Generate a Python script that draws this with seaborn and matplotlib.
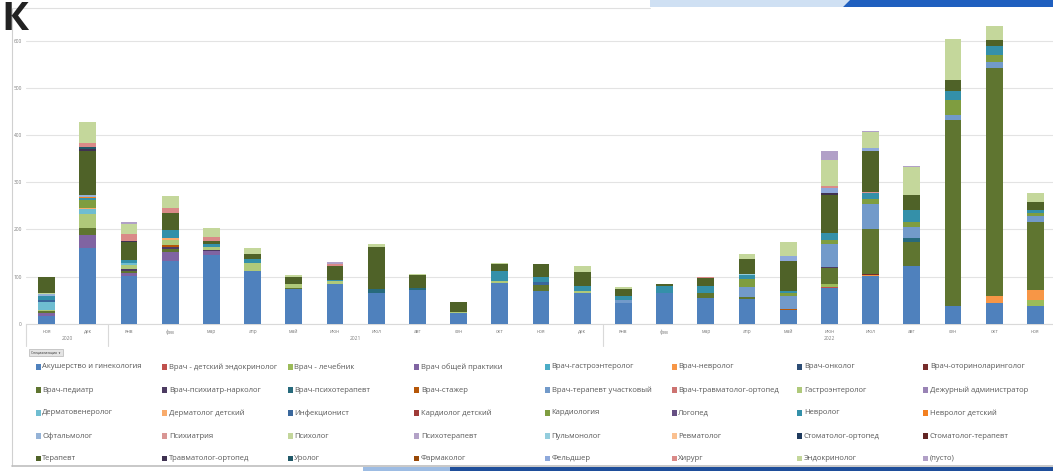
import numpy as np
import pandas as pd
import matplotlib.pyplot as plt
import seaborn as sns
from matplotlib.patches import Rectangle, Polygon
from matplotlib.transforms import blended_transform_factory

# Месяцы по оси X (ноя 2020 - ноя 2022)
months = ['ноя', 'дек',
          'янв', 'фев', 'мар', 'апр', 'май', 'июн', 'июл', 'авг', 'сен', 'окт', 'ноя', 'дек',
          'янв', 'фев', 'мар', 'апр', 'май', 'июн', 'июл', 'авг', 'сен', 'окт', 'ноя']
years = ['2020', '2021', '2022']
year_first = [0, 2, 14]
year_last = [1, 13, 24]

specialties = [
    'Акушерство и гинекология', 'Врач - детский эндокринолог', 'Врач - лечебник', 'Врач общей практики',
    'Врач-гастроэнтеролог', 'Врач-невролог', 'Врач-онколог', 'Врач-оториноларинголог',
    'Врач-педиатр', 'Врач-психиатр-нарколог', 'Врач-психотерапевт', 'Врач-стажер',
    'Врач-терапевт участковый', 'Врач-травматолог-ортопед', 'Гастроэнтеролог', 'Дежурный администратор',
    'Дерматовенеролог', 'Дерматолог детский', 'Инфекционист', 'Кардиолог детский',
    'Кардиология', 'Логопед', 'Невролог', 'Невролог детский',
    'Офтальмолог', 'Психиатрия', 'Психолог', 'Психотерапевт',
    'Пульмонолог', 'Ревматолог', 'Стоматолог-ортопед', 'Стоматолог-терапевт',
    'Терапевт', 'Травматолог-ортопед', 'Уролог', 'Фармаколог',
    'Фельдшер', 'Хирург', 'Эндокринолог', '(пусто)']

colors = [
    '#4F81BD', '#C0504D', '#9BBB59', '#8064A2', '#4BACC6', '#F79646', '#2C4D75', '#772C2A',
    '#5F7530', '#4D3B62', '#276A7C', '#B65708', '#729ACA', '#CD7371', '#AFC97A', '#9983B5',
    '#6FBDD1', '#F9AB6B', '#3A679C', '#9F3B38', '#7F9D40', '#664F83', '#3490A9', '#F38020',
    '#95B3D7', '#D99694', '#C3D69B', '#B3A2C7', '#93CDDD', '#FAC090', '#1F3B5E', '#632523',
    '#4F6228', '#3F3151', '#215968', '#984807', '#8EA9DB', '#DA8A88', '#C4D79B', '#B1A0C7']

# Количество по специальностям, по месяцам
akusherstvo  = [16, 160, 101, 133, 145, 112, 73, 84, 66, 71, 22, 87, 70, 66, 43, 66, 55, 53, 28, 75, 101, 123, 38, 44, 38]
det_endokr   = [0, 0, 0, 0, 0, 0, 0, 0, 0, 0, 0, 0, 0, 0, 0, 0, 0, 0, 0, 3, 0, 0, 0, 0, 0]
lechebnik    = [0, 0, 0, 0, 0, 0, 0, 0, 0, 0, 0, 0, 0, 0, 0, 0, 0, 0, 0, 6, 0, 0, 0, 0, 12]
obshey_pr    = [7, 29, 7, 18, 9, 0, 0, 0, 0, 0, 0, 0, 0, 0, 0, 0, 0, 0, 0, 0, 0, 0, 0, 0, 0]
v_gastro     = [0, 0, 0, 0, 0, 0, 0, 0, 0, 0, 0, 0, 0, 0, 0, 0, 0, 0, 0, 0, 0, 0, 0, 0, 0]
v_nevrolog   = [0, 0, 0, 0, 0, 0, 0, 0, 0, 0, 0, 0, 0, 0, 0, 0, 0, 0, 0, 0, 3, 0, 0, 15, 21]
v_onkolog    = [0, 0, 0, 0, 0, 0, 0, 0, 0, 0, 0, 0, 0, 0, 0, 0, 0, 0, 0, 0, 0, 0, 0, 0, 0]
v_otorino    = [0, 0, 0, 0, 0, 0, 0, 0, 0, 0, 0, 0, 0, 0, 0, 0, 0, 0, 0, 0, 2, 0, 0, 0, 0]
v_pediatr    = [4, 14, 3, 8, 0, 0, 3, 0, 0, 0, 0, 0, 12, 0, 0, 0, 11, 4, 0, 33, 95, 51, 393, 482, 145]
v_psih_nark  = [0, 0, 4, 3, 3, 0, 0, 0, 0, 0, 0, 0, 0, 0, 0, 0, 0, 0, 0, 3, 0, 0, 0, 0, 0]
v_psihoter   = [0, 0, 0, 0, 0, 0, 0, 0, 7, 4, 0, 0, 0, 0, 0, 0, 0, 0, 0, 0, 0, 7, 0, 0, 0]
v_stazher    = [0, 0, 0, 5, 0, 0, 0, 0, 0, 0, 0, 0, 0, 0, 0, 0, 0, 0, 4, 0, 0, 0, 0, 0, 0]
v_terap_uch  = [0, 0, 0, 0, 0, 0, 0, 0, 0, 0, 0, 0, 0, 0, 8, 0, 0, 20, 26, 48, 53, 23, 12, 13, 12]
v_travm      = [0, 0, 0, 0, 0, 0, 0, 0, 0, 0, 0, 0, 0, 0, 0, 0, 0, 0, 0, 0, 0, 0, 0, 0, 0]
gastroent    = [3, 30, 9, 10, 5, 16, 8, 6, 0, 0, 3, 4, 0, 4, 0, 0, 0, 0, 0, 0, 0, 0, 0, 0, 0]
dezhurny     = [0, 0, 0, 0, 0, 0, 0, 0, 0, 0, 0, 0, 0, 0, 0, 0, 0, 0, 0, 0, 0, 0, 0, 0, 0]
dermatoven   = [16, 10, 5, 0, 0, 0, 0, 0, 0, 0, 0, 0, 0, 0, 0, 0, 0, 0, 0, 0, 0, 0, 0, 0, 0]
derm_det     = [0, 2, 0, 4, 0, 0, 0, 0, 0, 0, 0, 0, 0, 0, 0, 0, 0, 0, 0, 0, 0, 0, 0, 0, 0]
infekcionist = [4, 0, 0, 0, 0, 0, 0, 0, 0, 0, 0, 0, 6, 0, 0, 0, 0, 0, 0, 0, 0, 0, 0, 0, 0]
kard_det     = [0, 0, 0, 0, 0, 0, 0, 0, 0, 0, 0, 0, 0, 0, 0, 0, 0, 0, 0, 0, 0, 0, 0, 0, 0]
kardiologiya = [0, 18, 0, 0, 0, 0, 0, 0, 0, 0, 0, 0, 0, 0, 0, 0, 0, 18, 7, 9, 11, 11, 30, 16, 6]
logoped      = [0, 0, 0, 0, 0, 0, 0, 0, 0, 0, 0, 0, 0, 0, 0, 0, 0, 0, 0, 0, 0, 0, 0, 0, 0]
nevrolog     = [8, 4, 5, 17, 7, 10, 0, 2, 0, 0, 0, 21, 12, 10, 7, 14, 14, 8, 4, 15, 11, 27, 21, 18, 8]
nevr_det     = [0, 2, 0, 0, 0, 0, 0, 0, 0, 0, 0, 0, 0, 0, 0, 0, 0, 0, 0, 0, 0, 0, 0, 0, 0]
oftalmolog   = [4, 3, 0, 0, 0, 0, 0, 0, 0, 0, 0, 0, 0, 0, 0, 0, 0, 0, 0, 0, 0, 0, 0, 0, 0]
psihiatriya  = [0, 0, 0, 0, 0, 0, 0, 0, 0, 0, 0, 0, 0, 0, 0, 0, 0, 0, 0, 0, 3, 0, 0, 0, 0]
psiholog     = [2, 0, 0, 0, 0, 0, 0, 0, 0, 0, 0, 0, 0, 0, 0, 0, 0, 0, 0, 0, 0, 0, 0, 0, 0]
psihoterapevt = [0, 0, 0, 0, 0, 0, 0, 0, 0, 0, 0, 0, 0, 0, 0, 0, 0, 0, 0, 0, 0, 0, 0, 0, 0]
pulmonolog   = [0, 0, 0, 0, 0, 0, 0, 0, 0, 0, 0, 0, 0, 0, 0, 0, 0, 3, 0, 0, 0, 0, 0, 0, 0]
revmatolog   = [0, 0, 0, 0, 0, 0, 0, 0, 0, 0, 0, 0, 0, 0, 0, 0, 0, 0, 0, 0, 0, 0, 0, 0, 0]
stom_ortoped = [0, 0, 0, 0, 0, 0, 0, 0, 0, 0, 0, 0, 0, 0, 0, 0, 0, 0, 0, 0, 0, 0, 0, 0, 0]
stom_terapevt = [0, 0, 0, 0, 0, 0, 0, 0, 0, 0, 0, 0, 0, 0, 0, 0, 0, 0, 0, 0, 0, 0, 0, 0, 0]
terapevt     = [34, 95, 39, 36, 7, 9, 16, 30, 89, 28, 20, 14, 26, 30, 16, 4, 16, 32, 64, 81, 88, 30, 23, 13, 15]
travmatolog  = [0, 4, 2, 0, 0, 0, 0, 0, 0, 0, 0, 0, 0, 0, 0, 0, 0, 0, 0, 4, 0, 0, 0, 0, 0]
urolog       = [0, 3, 0, 0, 0, 0, 0, 0, 0, 0, 0, 0, 0, 0, 0, 0, 0, 0, 0, 0, 0, 0, 0, 0, 0]
farmakolog   = [2, 0, 0, 0, 0, 0, 0, 0, 0, 0, 0, 0, 0, 0, 0, 0, 0, 0, 0, 0, 0, 0, 0, 0, 0]
feldsher     = [0, 0, 0, 0, 0, 0, 0, 0, 0, 0, 0, 0, 0, 0, 0, 0, 0, 0, 11, 11, 5, 0, 0, 0, 0]
hirurg       = [0, 8, 16, 12, 8, 0, 0, 4, 0, 0, 2, 0, 0, 0, 0, 0, 3, 0, 0, 3, 0, 0, 0, 0, 0]
endokrinolog = [0, 45, 21, 25, 18, 14, 4, 0, 7, 2, 0, 2, 0, 13, 3, 1, 0, 10, 30, 55, 34, 60, 87, 30, 21]
pusto        = [0, 0, 3, 0, 0, 0, 0, 4, 0, 0, 0, 0, 0, 0, 0, 0, 0, 0, 0, 20, 3, 3, 0, 0, 0]

series = [akusherstvo, det_endokr, lechebnik, obshey_pr, v_gastro, v_nevrolog, v_onkolog, v_otorino,
          v_pediatr, v_psih_nark, v_psihoter, v_stazher, v_terap_uch, v_travm, gastroent, dezhurny,
          dermatoven, derm_det, infekcionist, kard_det, kardiologiya, logoped, nevrolog, nevr_det,
          oftalmolog, psihiatriya, psiholog, psihoterapevt, pulmonolog, revmatolog, stom_ortoped, stom_terapevt,
          terapevt, travmatolog, urolog, farmakolog, feldsher, hirurg, endokrinolog, pusto]

rows = []
for name, vals in zip(specialties, series):
    for i, v in enumerate(vals):
        rows.append({'idx': i, 'spec': name, 'value': v})
df = pd.DataFrame(rows)

W, H = 1053, 471


def fx(px):
    return px / W


def fy(py):
    return 1 - py / H


sns.set_style('white')
plt.rcParams['font.family'] = ['Open Sans', 'DejaVu Sans']

fig = plt.figure(figsize=(W / 100, H / 100), dpi=100)
ax = fig.add_axes([fx(26), fy(323.7), fx(1056) - fx(26), fy(8) - fy(323.7)])

# первый уровень hue оказывается сверху стопки, поэтому порядок обратный
sns.histplot(data=df, x='idx', weights='value', hue='spec',
             hue_order=specialties[::-1], palette=dict(zip(specialties, colors)),
             multiple='stack', discrete=True, shrink=0.41, linewidth=0, alpha=1,
             legend=False, ax=ax, zorder=3)

ax.set_xlim(-0.5, 24.5)
ax.set_ylim(0, 669)
ax.set_yticks(range(0, 700, 100))
ax.set_yticklabels([str(v) for v in range(0, 700, 100)], fontsize=3.5, color='#7F7F7F')
ax.set_xticks(range(len(months)))
ax.set_xticklabels(months, fontsize=3.5, color='#7F7F7F')
ax.tick_params(axis='both', length=0)
ax.tick_params(axis='y', pad=3)
ax.tick_params(axis='x', pad=4)
ax.set_xlabel('')
ax.set_ylabel('')
ax.grid(axis='y', color='#E3E3E3', linewidth=0.8, zorder=0)
ax.set_axisbelow(True)
for s in ['top', 'right', 'left']:
    ax.spines[s].set_visible(False)
ax.spines['bottom'].set_color('#D9D9D9')
ax.spines['bottom'].set_linewidth(0.8)

# группировка месяцев по годам
tr = blended_transform_factory(ax.transData, ax.transAxes)
for b in [-0.5, 1.5, 13.5]:
    ax.plot([b, b], [0, -0.07], transform=tr, color='#D9D9D9', lw=0.8, clip_on=False)
for yr, a, b in zip(years, year_first, year_last):
    ax.text((a + b) / 2, -0.047, yr, transform=tr, ha='center', va='center',
            fontsize=3.5, color='#7F7F7F')

# кнопка поля сводной диаграммы
fig.add_artist(Rectangle((fx(29), fy(356)), fx(63) - fx(29), fy(349) - fy(356),
                         facecolor='#E4E4E4', edgecolor='#A6A6A6', lw=0.4))
fig.text(fx(31), fy(352.5), 'Специализация  ▾', fontsize=2.4, color='#333333', va='center')

# легенда: 8 столбцов, заполнение по строкам
col_x = [35.7, 162.3, 287.5, 414.3, 545, 671.7, 797.3, 923.3]
row_y = [367, 390, 413, 436, 458.5]
for k, (name, c) in enumerate(zip(specialties, colors)):
    r, cc = divmod(k, 8)
    x0, y0 = col_x[cc], row_y[r]
    fig.add_artist(Rectangle((fx(x0), fy(y0 + 2.6)), fx(5), 5.2 / H,
                             facecolor=c, edgecolor='none'))
    fig.text(fx(x0 + 6.5), fy(y0), name, fontsize=5.5, color='#595959', va='center')

# рамка карточки и оформление слайда
fig.add_artist(plt.Line2D([fx(12), fx(12)], [fy(8), fy(466)], color='#D0D0D0', lw=0.8))
fig.add_artist(plt.Line2D([fx(12), fx(650)], [fy(8), fy(8)], color='#E0E0E0', lw=0.8))
fig.add_artist(plt.Line2D([fx(12), fx(1053)], [fy(466), fy(466)], color='#BFBFBF', lw=1.2))
fig.add_artist(Polygon([[fx(650), fy(0)], [fx(850), fy(0)], [fx(843), fy(7)], [fx(650), fy(7)]],
                       closed=True, facecolor='#CFE0F3', edgecolor='none'))
fig.add_artist(Polygon([[fx(850), fy(0)], [fx(1053), fy(0)], [fx(1053), fy(7)], [fx(843), fy(7)]],
                       closed=True, facecolor='#1F5FBF', edgecolor='none'))
fig.add_artist(Rectangle((fx(363), 0), fx(450) - fx(363), fy(467), facecolor='#9DBCE3', edgecolor='none'))
fig.add_artist(Rectangle((fx(450), 0), fx(1053) - fx(450), fy(467), facecolor='#1F4E9A', edgecolor='none'))
fig.text(fx(1), fy(30), 'К', fontsize=29, fontweight='bold', color='#222222', va='baseline')

fig.savefig('out.png', dpi=100)
